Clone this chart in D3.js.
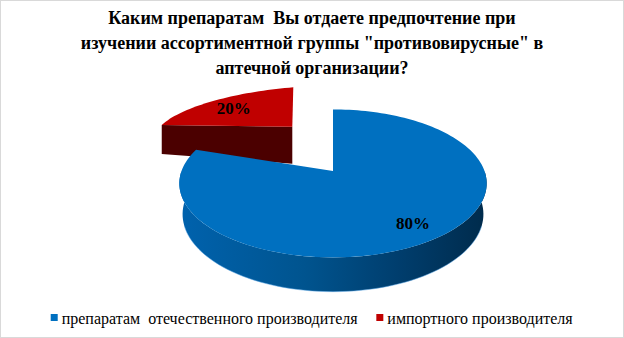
<!DOCTYPE html>
<html lang="ru">
<head>
<meta charset="UTF-8" />
<title>Pie 3D</title>
<style>
  * { margin: 0; padding: 0; box-sizing: border-box; }
  body { background: #fff; }
</style>
</head>
<body>
<svg id="chart" width="624" height="338" font-family="Liberation Serif, DejaVu Serif, serif"></svg>
<script src="https://cdn.jsdelivr.net/npm/d3@7"></script>
<script>
  // data
  const titleLines = [
    'Каким препаратам  Вы отдаете предпочтение при',
    'изучении ассортиментной группы "противовирусные" в',
    'аптечной организации?'
  ];
  const categories = ['препаратам  отечественного производителя', 'импортного производителя'];
  const values = [80, 20];
  const topColors = ['#0070c0', '#c00000'];

  const svg = d3.select('#chart'),
    width = +svg.attr('width'),
    height = +svg.attr('height');

  // chart border
  svg.append('rect')
    .attr('x', 0.5).attr('y', 0.5)
    .attr('width', width - 1).attr('height', height - 1)
    .attr('fill', '#fff').attr('stroke', '#d9d9d9');

  // title
  svg.append('g').selectAll('text')
    .data(titleLines)
    .join('text')
    .attr('x', width / 2)
    .attr('y', (d, i) => 24 + i * 25)
    .attr('text-anchor', 'middle')
    .attr('font-size', 18)
    .attr('font-weight', 'bold')
    .attr('xml:space', 'preserve')
    .text(d => d);

  const pie = d3.pie().sort(null);
  const arcs = pie(values);
  const total = d3.sum(values);
  const pct = d3.format('.0%');

  // perspective view of the main (blue) slice
  const view = { cx: 333, cy: 171, F: 151.5, k: 0.1905, s: 0.4747 };
  view.c = Math.sqrt(1 - view.s * view.s);
  const thick = 0.233;

  function projMain(a, r, h) {
    const X = r * Math.sin(a), P = r * Math.cos(a);
    const Y = h * view.c + P * view.s;
    const Z = P * view.c - h * view.s;
    const w = 1 + view.k * Z;
    return [view.cx + view.F * X / w, view.cy - view.F * Y / w];
  }

  // exploded (red) slice is drawn flatter, the way the original renders it
  const ex = { tip: [view.cx - 40.7, view.cy - 44.3], U: [137.6, -11], V: [1, -39.4], depth: 37 };
  function projExploded(a, r, h) {
    const sa = Math.sin(a) * r, ca = Math.cos(a) * r;
    const x = ex.tip[0] + sa * ex.U[0] + ca * ex.V[0];
    let y = ex.tip[1] + sa * ex.U[1] + ca * ex.V[1];
    if (h !== 0) y += ex.depth * (1 - 0.7 * ca);
    return [x, y];
  }

  const line = d3.line();
  function arcPts(proj, a0, a1, h, n) {
    return d3.range(n + 1).map(i => proj(a0 + (a1 - a0) * i / n, 1, h));
  }

  const g = svg.append('g');

  // red slice (behind)
  const red = arcs[1];
  const redFace = [
    projExploded(red.startAngle, 0, 0),
    projExploded(red.startAngle, 1, 0),
    projExploded(red.startAngle, 1, -thick),
    projExploded(red.startAngle, 0, -thick)
  ];
  g.append('path').attr('d', line(redFace) + 'Z').attr('fill', '#4b0000');
  g.append('path')
    .attr('d', line([projExploded(0, 0, 0)].concat(arcPts(projExploded, red.startAngle, red.endAngle, 0, 40))) + 'Z')
    .attr('fill', topColors[1]);

  // blue slice side
  const defs = svg.append('defs');
  const grad = defs.append('linearGradient')
    .attr('id', 'blueSide')
    .attr('gradientUnits', 'userSpaceOnUse')
    .attr('x1', 180).attr('x2', 490).attr('y1', 0).attr('y2', 0);
  grad.selectAll('stop')
    .data([[0, '#0062ad'], [0.4, '#00548f'], [0.7, '#003e6e'], [1, '#002a4a']])
    .join('stop')
    .attr('offset', d => d[0])
    .attr('stop-color', d => d[1]);

  const blue = arcs[0];
  const s0 = Math.max(blue.startAngle, Math.PI / 2), s1 = Math.min(blue.endAngle, Math.PI * 1.5);
  const sideTop = arcPts(projMain, s0, s1, 0, 80);
  const sideBot = arcPts(projMain, s0, s1, -thick, 80);
  g.append('path').attr('d', line(sideTop.concat(sideBot.slice().reverse())) + 'Z').attr('fill', 'url(#blueSide)');
  // light rim along the bottom edge
  g.append('path')
    .attr('d', line(arcPts(projMain, Math.PI * 0.6, Math.PI * 1.4, -thick, 60)))
    .attr('fill', 'none')
    .attr('stroke', '#5aa6e6')
    .attr('stroke-opacity', 0.5)
    .attr('stroke-width', 1);
  g.append('path')
    .attr('d', line([projMain(0, 0, 0)].concat(arcPts(projMain, blue.startAngle, blue.endAngle, 0, 160))) + 'Z')
    .attr('fill', topColors[0]);

  // data labels
  const labelPos = [
    projMain((blue.startAngle + blue.endAngle) / 2, 0.8, 0),
    projExploded((red.startAngle + red.endAngle) / 2, 0.73, 0)
  ];
  g.selectAll('text.lbl')
    .data(arcs)
    .join('text')
    .attr('class', 'lbl')
    .attr('x', (d, i) => labelPos[i][0])
    .attr('y', (d, i) => labelPos[i][1])
    .attr('text-anchor', 'middle')
    .attr('dominant-baseline', 'central')
    .attr('font-size', 17)
    .attr('font-weight', 'bold')
    .text(d => pct(d.value / total));

  // legend
  const legend = svg.append('g');
  const items = legend.selectAll('g')
    .data(categories)
    .join('g');
  items.append('rect')
    .attr('width', 7).attr('height', 7)
    .attr('y', -4)
    .attr('fill', (d, i) => topColors[i]);
  items.append('text')
    .attr('x', 11)
    .attr('dominant-baseline', 'central')
    .attr('font-size', 16)
    .attr('xml:space', 'preserve')
    .text(d => d);
  const widths = items.nodes().map(n => n.getBBox().width);
  const gap = 18;
  let x = (width - (d3.sum(widths) + gap * (widths.length - 1))) / 2;
  items.each(function (d, i) {
    d3.select(this).attr('transform', `translate(${x},318)`);
    x += widths[i] + gap;
  });
</script>
</body>
</html>
